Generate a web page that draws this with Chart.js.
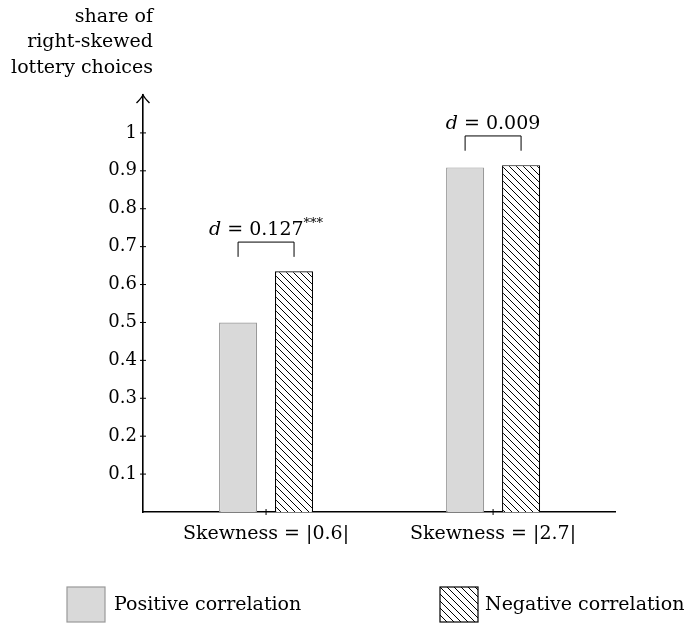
<!DOCTYPE html>
<html>
<head>
<meta charset="utf-8">
<script src="https://cdn.jsdelivr.net/npm/chart.js@4.4.0/dist/chart.umd.min.js"></script>
<style>
  html, body { margin: 0; padding: 0; background: #fff; }
</style>
</head>
<body>
<canvas id="chart" width="691" height="627"></canvas>
<script>
// data
const categories = ['Skewness = |0.6|', 'Skewness = |2.7|'];
const positiveCorr = [0.5, 0.909];
const negativeCorr = [0.635, 0.915];
const diffValues = ['0.127', '0.009'];
const diffStars = ['***', ''];
const yTicks = [0.1, 0.2, 0.3, 0.4, 0.5, 0.6, 0.7, 0.8, 0.9, 1];
const yTickLabels = ['0.1', '0.2', '0.3', '0.4', '0.5', '0.6', '0.7', '0.8', '0.9', '1'];
const axisTitle = ['share of', 'right-skewed', 'lottery choices'];
const legendLabels = ['Positive correlation', 'Negative correlation'];

const FONT = '"DejaVu Serif", "Liberation Serif", serif';
const canvas = document.getElementById('chart');
const ctx = canvas.getContext('2d');

// diagonal hatch like "\\\\"
function makeHatch() {
    const s = 7;
    const c = document.createElement('canvas');
    c.width = s; c.height = s;
    const g = c.getContext('2d');
    g.fillStyle = '#fff';
    g.fillRect(0, 0, s, s);
    g.strokeStyle = '#000';
    g.lineWidth = 1;
    g.beginPath();
    g.moveTo(-1, -1); g.lineTo(s + 1, s + 1);
    g.moveTo(-1, s - 1); g.lineTo(1, s + 1);
    g.moveTo(s - 1, -1); g.lineTo(s + 1, 1);
    g.stroke();
    return ctx.createPattern(c, 'repeat');
}
const hatchFill = makeHatch();

function line(c, x1, y1, x2, y2) {
    c.beginPath();
    c.moveTo(x1, y1);
    c.lineTo(x2, y2);
    c.stroke();
}

function drawDiff(c, cx, baseY, val, stars) {
    const parts = [
        ['d', `italic 19px ${FONT}`, 0],
        [' = ' + val, `19px ${FONT}`, 0],
        [stars, `13px ${FONT}`, -8]
    ];
    let total = 0;
    parts.forEach(p => { c.font = p[1]; total += c.measureText(p[0]).width; });
    let x = cx - total / 2;
    c.textAlign = 'left';
    c.textBaseline = 'alphabetic';
    parts.forEach(p => {
        c.font = p[1];
        c.fillText(p[0], x, baseY + p[2]);
        x += c.measureText(p[0]).width;
    });
}

const overlay = {
    id: 'overlay',
    afterDraw(chart) {
        const c = chart.ctx;
        const a = chart.chartArea;
        const { x, y } = chart.scales;
        c.save();
        c.strokeStyle = '#000';
        c.fillStyle = '#000';

        // arrow head on y axis
        c.lineWidth = 1.4;
        c.beginPath();
        c.moveTo(a.left - 6.5, a.top + 8);
        c.quadraticCurveTo(a.left - 1.5, a.top + 3, a.left, a.top);
        c.quadraticCurveTo(a.left + 1.5, a.top + 3, a.left + 6.5, a.top + 8);
        c.stroke();

        // tick marks across the axes
        c.lineWidth = 1;
        yTicks.forEach(v => {
            const py = y.getPixelForValue(v);
            line(c, a.left - 3, py, a.left + 3, py);
        });
        categories.forEach((_, i) => {
            const px = x.getPixelForValue(i);
            line(c, px, a.bottom - 3, px, a.bottom + 3);
        });

        // axis title
        c.font = `19px ${FONT}`;
        c.textAlign = 'right';
        c.textBaseline = 'middle';
        axisTitle.forEach((t, i) => c.fillText(t, 153, 17 + i * 25.5));

        // brackets with differences
        const m0 = chart.getDatasetMeta(0);
        const m1 = chart.getDatasetMeta(1);
        categories.forEach((_, i) => {
            const top = Math.max(positiveCorr[i], negativeCorr[i]);
            const x1 = m0.data[i].x;
            const x2 = m1.data[i].x;
            const yt = y.getPixelForValue(top + 0.077);
            const yb = y.getPixelForValue(top + 0.038);
            c.lineWidth = 1;
            c.beginPath();
            c.moveTo(x1, yb);
            c.lineTo(x1, yt);
            c.lineTo(x2, yt);
            c.lineTo(x2, yb);
            c.stroke();
            drawDiff(c, (x1 + x2) / 2, yt - 7, diffValues[i], diffStars[i]);
        });

        // legend
        const boxes = [
            { x: 67, fill: '#d9d9d9', stroke: '#999', tx: 114 },
            { x: 440, fill: hatchFill, stroke: '#000', tx: 485 }
        ];
        boxes.forEach((b, i) => {
            c.fillStyle = b.fill;
            c.fillRect(b.x, 587, 38, 35);
            c.strokeStyle = b.stroke;
            c.lineWidth = 1.2;
            c.strokeRect(b.x, 587, 38, 35);
            c.fillStyle = '#000';
            c.font = `19px ${FONT}`;
            c.textAlign = 'left';
            c.textBaseline = 'middle';
            c.fillText(legendLabels[i], b.tx, 605);
        });
        c.restore();
    }
};

new Chart(ctx, {
    type: 'bar',
    data: {
        datasets: [{
            label: legendLabels[0],
            data: categories.map((_, i) => ({ x: i, y: positiveCorr[i] })),
            backgroundColor: '#d9d9d9',
            borderColor: '#999',
            borderWidth: 1.2,
            barPercentage: 0.68,
            categoryPercentage: 0.493
        }, {
            label: legendLabels[1],
            data: categories.map((_, i) => ({ x: i, y: negativeCorr[i] })),
            backgroundColor: hatchFill,
            borderColor: '#000',
            borderWidth: 1.2,
            barPercentage: 0.68,
            categoryPercentage: 0.493
        }]
    },
    options: {
        responsive: false,
        animation: false,
        layout: { padding: { top: 95, right: 76, left: 0, bottom: 0 } },
        plugins: { legend: { display: false }, tooltip: { enabled: false } },
        scales: {
            x: {
                type: 'linear',
                min: -0.542,
                max: 1.537,
                offset: false,
                afterBuildTicks: s => { s.ticks = categories.map((_, i) => ({ value: i })); },
                afterFit: s => { s.height = 115; },
                ticks: {
                    callback: (v, i) => categories[i],
                    font: { family: FONT, size: 19 },
                    color: '#000',
                    padding: 3,
                    maxRotation: 0,
                    autoSkip: false
                },
                grid: { display: false },
                border: { color: '#000', width: 1.6 }
            },
            y: {
                min: 0,
                max: 1.1,
                afterBuildTicks: s => { s.ticks = yTicks.map(v => ({ value: v })); },
                afterFit: s => { s.width = 143; },
                ticks: {
                    callback: (v, i) => yTickLabels[i],
                    font: { family: FONT, size: 18 },
                    color: '#000',
                    padding: -2,
                    autoSkip: false
                },
                grid: { display: false },
                border: { color: '#000', width: 1.6 }
            }
        }
    },
    plugins: [overlay]
});
</script>
</body>
</html>
